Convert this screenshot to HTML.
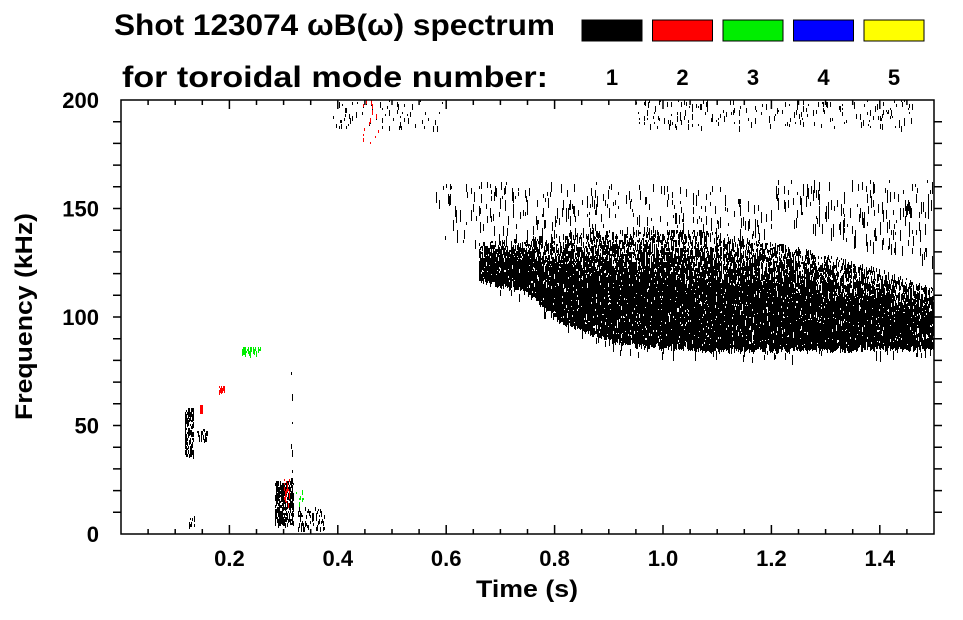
<!DOCTYPE html>
<html><head><meta charset="utf-8">
<style>
html,body{margin:0;padding:0;background:#fff;}
body{width:963px;height:615px;overflow:hidden;font-family:"Liberation Sans",sans-serif;}
svg text{font-family:"Liberation Sans","DejaVu Sans",sans-serif;font-weight:bold;fill:#000;}
</style></head>
<body>
<svg id="chart" width="963" height="615" viewBox="0 0 963 615" xmlns="http://www.w3.org/2000/svg">
  <text x="114" y="35" font-size="30" textLength="441" lengthAdjust="spacingAndGlyphs">Shot 123074 ωB(ω) spectrum</text>
  <text x="122" y="87" font-size="30" textLength="426" lengthAdjust="spacingAndGlyphs">for toroidal mode number:</text>
  <g id="legend"></g>
  <g id="marks"></g>
  <g id="axes"></g>
  <text x="476" y="597" font-size="24" textLength="102" lengthAdjust="spacingAndGlyphs">Time (s)</text>
  <text transform="translate(32,420) rotate(-90)" font-size="24" textLength="207" lengthAdjust="spacingAndGlyphs">Frequency (kHz)</text>
</svg>
<script>
// ---- data ----
const modeNumbers = [1, 2, 3, 4, 5];
const modeColors = ["#000000", "#ff0000", "#00ee00", "#0000ff", "#ffff00"];
const xTicks = [0.2, 0.4, 0.6, 0.8, 1.0, 1.2, 1.4];
const yTicks = [0, 50, 100, 150, 200];
// main mode-1 band envelope (time s, low kHz, high kHz)
const bandTimes = [0.66, 0.74, 0.81, 0.92, 1.07, 1.25, 1.34, 1.4, 1.5];
const bandLow   = [118, 114, 99, 89, 86, 86, 86, 87, 87];
const bandHigh  = [134, 136, 138, 140, 140, 132, 126, 122, 113];
// sparse region above band
const sparseTimes = [0.58, 0.7, 0.9, 1.1, 1.2];
const sparseTop   = [162, 162, 162, 160, 150];
// upper-right sparse patch
const patchTimes = [1.2, 1.35, 1.5];
const patchTop   = [163, 163, 163];
const patchLow   = [148, 135, 125];
// top band segments near 190-200 kHz
const topBandStart = [0.39, 0.95];
const topBandEnd   = [0.6, 1.46];
// small isolated features: time, freq low, freq high, time width, mode
const blobT   = [0.125, 0.15, 0.148, 0.185, 0.24, 0.30, 0.35, 0.315, 0.305, 0.33, 0.13, 0.46];
const blobFlo = [36, 42, 57, 66, 83, 5, 3, 25, 14, 14, 3, 180];
const blobFhi = [58, 48, 60, 68, 86, 24, 12, 80, 25, 20, 8, 200];
const blobW   = [0.016, 0.02, 0.006, 0.012, 0.035, 0.035, 0.05, 0.004, 0.01, 0.015, 0.012, 0.03];
const blobMode= [1, 1, 2, 2, 3, 1, 1, 1, 2, 3, 1, 2];
const blobDen = [0.55, 0.35, 0.5, 0.6, 0.5, 0.6, 0.25, 0.08, 0.2, 0.15, 0.4, 0.06];

// ---- scales ----
const X0 = 121, X1 = 934, Y0 = 534, Y1 = 100;
const xs = t => X0 + (t / 1.5) * (X1 - X0);
const ys = f => Y0 - (f / 200) * (Y0 - Y1);
const ts = x => (x - X0) / (X1 - X0) * 1.5;
const NS = "http://www.w3.org/2000/svg";
function interp(tArr, vArr, t) {
  if (t <= tArr[0]) return vArr[0];
  for (let i = 1; i < tArr.length; i++) if (t <= tArr[i]) {
    const r = (t - tArr[i-1]) / (tArr[i] - tArr[i-1]);
    return vArr[i-1] + r * (vArr[i] - vArr[i-1]);
  }
  return vArr[vArr.length - 1];
}
function h(a, b) { let n = (a * 374761393 + b * 668265263) | 0; n = (n ^ (n >>> 13)) * 1274126177; n = n ^ (n >>> 16); return ((n >>> 0) % 10000) / 10000; }

const paths = modeNumbers.map(() => []);
function fill(x, yTop, yBot, den, lenMin, lenMax, mode, fade) {
  for (let y = Math.floor(yTop); y < yBot; y += 2) {
    let dd = den;
    if (fade) dd = den * Math.min(1, 0.3 + 1.4 * (y - yTop) / (yBot - yTop));
    if (h(x, y) < dd) {
      const L = lenMin + Math.floor(h(y, x + 7) * (lenMax - lenMin));
      paths[mode - 1].push("M" + (x + 0.5) + " " + y + "v" + L);
    }
  }
}
// main band
for (let x = Math.ceil(xs(bandTimes[0])); x < X1; x++) {
  const t = ts(x);
  const yl = ys(interp(bandTimes, bandLow, t)), yh = ys(interp(bandTimes, bandHigh, t));
  fill(x, yh, yl, 0.8, 2, 8, 1, true);
  fill(x, yl, yl + 10, 0.02, 4, 12, 1);
  if (t <= 1.2) {
    const st = ys(interp(sparseTimes, sparseTop, t));
    fill(x, st, yh, 0.035, 3, 12, 1);
  }
}
// sparse area before band start
for (let x = Math.ceil(xs(sparseTimes[0])); x < xs(bandTimes[0]); x++) fill(x, ys(162), ys(135), 0.03, 3, 12, 1);
// upper-right patch
for (let x = Math.ceil(xs(patchTimes[0])); x < X1; x++) {
  const t = ts(x);
  fill(x, ys(interp(patchTimes, patchTop, t)), ys(interp(patchTimes, patchLow, t)), 0.035, 3, 14, 1);
}
// top band
for (let i = 0; i < topBandStart.length; i++)
  for (let x = Math.ceil(xs(topBandStart[i])); x < xs(topBandEnd[i]); x++) fill(x, ys(200), ys(188), 0.05, 2, 7, 1);
// blobs
for (let i = 0; i < blobT.length; i++) {
  const xa = xs(blobT[i] - blobW[i] / 2), xb = xs(blobT[i] + blobW[i] / 2);
  for (let x = Math.ceil(xa); x < xb; x++) fill(x, ys(blobFhi[i]), ys(blobFlo[i]), blobDen[i], 2, 6, blobMode[i]);
}
const marks = document.getElementById("marks");
paths.forEach((p, i) => {
  if (!p.length) return;
  const el = document.createElementNS(NS, "path");
  el.setAttribute("d", p.join(""));
  el.setAttribute("stroke", modeColors[i]);
  el.setAttribute("stroke-width", "1");
  el.setAttribute("fill", "none");
  
  
  marks.appendChild(el);
});

// ---- legend ----
const legend = document.getElementById("legend");
modeNumbers.forEach((m, i) => {
  const x = 582 + i * 70.5;
  const r = document.createElementNS(NS, "rect");
  r.setAttribute("x", x); r.setAttribute("y", 20); r.setAttribute("width", 60); r.setAttribute("height", 21);
  r.setAttribute("fill", modeColors[i]); r.setAttribute("stroke", "#000"); r.setAttribute("stroke-width", "1");
  
  
  legend.appendChild(r);
  const t = document.createElementNS(NS, "text");
  t.setAttribute("x", x + 30); t.setAttribute("y", 85); t.setAttribute("font-size", "22"); t.setAttribute("text-anchor", "middle");
  t.textContent = m;
  
  
  legend.appendChild(t);
});

// ---- axes ----
const axes = document.getElementById("axes");
let d = "M" + X0 + " " + Y1 + "H" + X1 + "V" + Y0 + "H" + X0 + "Z";
for (let k = 1; k < 30; k++) {
  const x = xs(k * 0.05), major = k % 4 === 0, L = major ? 9 : 5;
  d += "M" + x + " " + Y0 + "v" + (-L) + "M" + x + " " + Y1 + "v" + L;
}
for (let k = 1; k < 20; k++) {
  const y = ys(k * 10);
  d += "M" + X0 + " " + y + "h-8M" + X1 + " " + y + "h8";
}
const ap = document.createElementNS(NS, "path");
ap.setAttribute("d", d); ap.setAttribute("stroke", "#000"); ap.setAttribute("stroke-width", "1.5"); ap.setAttribute("fill", "none");


axes.appendChild(ap);
xTicks.forEach(v => {
  const t = document.createElementNS(NS, "text");
  t.setAttribute("x", xs(v)); t.setAttribute("y", 566); t.setAttribute("font-size", "22"); t.setAttribute("text-anchor", "middle");
  t.textContent = v.toFixed(1);
  
  
  axes.appendChild(t);
});
yTicks.forEach(v => {
  const t = document.createElementNS(NS, "text");
  t.setAttribute("x", 99); t.setAttribute("y", ys(v) + 8); t.setAttribute("font-size", "22"); t.setAttribute("text-anchor", "end");
  t.textContent = v;
  
  
  axes.appendChild(t);
});
</script>
</body></html>
